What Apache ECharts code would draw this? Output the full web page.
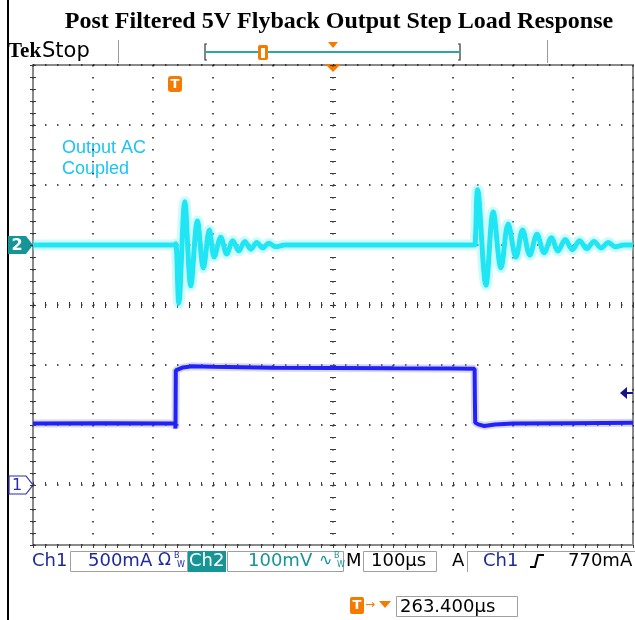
<!DOCTYPE html>
<html lang="en">
<head>
    <meta charset="UTF-8">
    <title>Post Filtered 5V Flyback Output Step Load Response</title>
    <script src="https://cdn.jsdelivr.net/npm/echarts@6/dist/echarts.min.js"></script>
    <style>
        body { margin: 0; background: #fff; }
    </style>
</head>
<body>
    <div id="main" style="width: 635px;height:620px;"></div>
    <script>
// Ch2 (output voltage, AC coupled) - time in us, value in mV
var ch2Time = [0, 236, 238, 243, 253, 263, 274, 284, 294, 302, 313, 323, 333, 343, 353, 363, 373, 383, 393, 405, 420,
    735, 737, 741, 755, 767, 780, 792, 805, 816, 828, 840, 852, 864, 875, 887, 899, 911, 923, 935, 947, 959, 971, 985, 1000];
var ch2mV = [0, 0, 2, -97, 72, -68, 40, -38, 25, -20, 13, -15, 7, -10, 6, -7, 4, -5, 3, -3, 0,
    0, 2, 92, -67, 55, -38, 35, -20, 25, -17, 18, -13, 12, -10, 9, -8, 7, -6, 6, -5, 4, -3, 0, 0];

// Ch1 (load current) - time in us, value in mA
var ch1Time = [0, 120, 237, 237.5, 238, 241, 250, 265, 300, 400, 500, 600, 700, 736, 736.5, 737, 742, 752, 770, 800, 900, 1000];
var ch1mA = [512, 515, 512, 470, 955, 962, 980, 990, 985, 978, 975, 972, 970, 968, 700, 520, 505, 492, 505, 512, 515, 518];

function pairs(xs, ys) {
    var out = [];
    for (var i = 0; i < xs.length; i++) out.push([xs[i], ys[i]]);
    return out;
}

var myChart = echarts.init(document.getElementById('main'));

var gridCol = '#3a3a3a';
var orange = '#f57a00';
var blueTxt = '#1f2a9e';
var teal = '#159595';
var font = 'DejaVu Sans';

// fine graticule ticks, one every 1/5 division
function tickAxis(n, extra) {
    var base = {
        type: 'value', min: 0, max: n, interval: 1,
        axisLine: { show: false },
        axisLabel: { show: false },
        splitLine: { show: false },
        axisTick: { show: true, inside: true, length: 3, lineStyle: { color: gridCol } }
    };
    for (var k in extra) base[k] = extra[k];
    return base;
}
var dotted = { color: '#1a1a1a', width: 1.5, type: [1.5, 10.5] };

var option = {
    animation: false,
    backgroundColor: '#fff',
    title: {
        text: 'Post Filtered 5V Flyback Output Step Load Response',
        left: 334, textAlign: 'center', top: 5,
        textStyle: { fontFamily: 'Liberation Serif', fontWeight: 'bold', fontSize: 24, color: '#000' }
    },
    grid: {
        left: 33, top: 65, width: 600, height: 480,
        show: true, borderColor: '#8a8a8a', borderWidth: 2
    },
    xAxis: [
        {
            type: 'value', min: 0, max: 1000, interval: 100, position: 'bottom',
            axisLine: { show: false }, axisLabel: { show: false }, axisTick: { show: false },
            splitLine: { show: true, lineStyle: dotted }
        },
        tickAxis(50, { position: 'bottom' }),
        tickAxis(50, { position: 'top' }),
        tickAxis(50, { position: 'bottom', offset: -240 }),
        tickAxis(50, { position: 'bottom', offset: -240, axisTick: { show: true, inside: false, length: 3, lineStyle: { color: gridCol } } })
    ],
    yAxis: [
        {
            type: 'value', min: -500, max: 300, interval: 100, position: 'left',
            axisLine: { show: false }, axisLabel: { show: false }, axisTick: { show: false },
            splitLine: { show: true, lineStyle: dotted }
        },
        {
            type: 'value', min: -500, max: 3500, interval: 500, position: 'left',
            axisLine: { show: false }, axisLabel: { show: false }, axisTick: { show: false },
            splitLine: { show: false }
        },
        tickAxis(40, { position: 'left' }),
        tickAxis(40, { position: 'right' }),
        tickAxis(40, { position: 'left', offset: -300 }),
        tickAxis(40, { position: 'left', offset: -300, axisTick: { show: true, inside: false, length: 3, lineStyle: { color: gridCol } } })
    ],
    series: [
        {
            name: 'Ch2 band', type: 'line', xAxisIndex: 0, yAxisIndex: 0, showSymbol: false,
            smooth: 0.35,
            lineStyle: { color: '#6ff3fb', width: 11, opacity: 0.35 },
            data: pairs(ch2Time, ch2mV)
        },
        {
            name: 'Ch2', type: 'line', xAxisIndex: 0, yAxisIndex: 0, showSymbol: false,
            smooth: 0.35,
            lineStyle: { color: '#20e6f4', width: 5 },
            data: pairs(ch2Time, ch2mV)
        },
        {
            name: 'Ch1 band', type: 'line', xAxisIndex: 0, yAxisIndex: 1, showSymbol: false,
            lineStyle: { color: '#7a7aff', width: 8, opacity: 0.3 },
            data: pairs(ch1Time, ch1mA)
        },
        {
            name: 'Ch1', type: 'line', xAxisIndex: 0, yAxisIndex: 1, showSymbol: false,
            lineStyle: { color: '#2222f5', width: 4 },
            data: pairs(ch1Time, ch1mA)
        }
    ],
    graphic: [
        // left frame line
        { type: 'rect', shape: { x: 7, y: 0, width: 2, height: 620 }, style: { fill: '#000' } },
        // header
        { type: 'text', x: 8, y: 52, style: { text: 'Tek', font: 'bold 21px Liberation Serif', fill: '#000', textVerticalAlign: 'middle' } },
        { type: 'text', x: 42, y: 52, style: { text: 'Stop', font: '21px ' + font, fill: '#000', textVerticalAlign: 'middle' } },
        { type: 'line', shape: { x1: 118.5, y1: 40, x2: 118.5, y2: 63 }, style: { stroke: '#9a9a9a', lineWidth: 1 } },
        { type: 'line', shape: { x1: 547.5, y1: 40, x2: 547.5, y2: 63 }, style: { stroke: '#9a9a9a', lineWidth: 1 } },
        { type: 'polyline', shape: { points: [[207, 44], [205, 44], [205, 60], [207, 60]] }, style: { stroke: '#333', lineWidth: 1.2, fill: null } },
        { type: 'polyline', shape: { points: [[458, 44], [460, 44], [460, 60], [458, 60]] }, style: { stroke: '#333', lineWidth: 1.2, fill: null } },
        { type: 'line', shape: { x1: 205, y1: 52, x2: 460, y2: 52 }, style: { stroke: '#2aa8a8', lineWidth: 2 } },
        { type: 'rect', shape: { x: 258, y: 45, width: 10, height: 15, r: 2 }, style: { fill: orange } },
        { type: 'rect', shape: { x: 261, y: 48, width: 4, height: 10 }, style: { fill: '#fff' } },
        { type: 'polygon', shape: { points: [[328, 42], [338, 42], [333, 48]] }, style: { fill: orange } },
        // trigger position marker on graticule top
        { type: 'polygon', shape: { points: [[325, 64], [341, 64], [333, 72]] }, style: { fill: orange } },
        { type: 'rect', shape: { x: 168, y: 76, width: 14, height: 16, r: 3 }, style: { fill: orange } },
        { type: 'text', x: 175, y: 84.5, style: { text: 'T', font: 'bold 13px ' + font, fill: '#fff', textAlign: 'center', textVerticalAlign: 'middle' } },
        // annotation
        { type: 'text', x: 62, y: 148, style: { text: 'Output AC', font: '18px Liberation Sans', fill: '#1cc4f4', textVerticalAlign: 'middle' } },
        { type: 'text', x: 62, y: 169, style: { text: 'Coupled', font: '18px Liberation Sans', fill: '#1cc4f4', textVerticalAlign: 'middle' } },
        // channel ground markers
        { type: 'polygon', shape: { points: [[8, 236], [26, 236], [33, 245], [26, 254], [8, 254]] }, style: { fill: teal } },
        { type: 'text', x: 17, y: 246, style: { text: '2', font: 'bold 16px ' + font, fill: '#fff', textAlign: 'center', textVerticalAlign: 'middle' } },
        { type: 'polygon', shape: { points: [[9, 476], [26, 476], [33, 485], [26, 494], [9, 494]] }, style: { fill: '#fff', stroke: '#2b2bb5', lineWidth: 1.2 } },
        { type: 'text', x: 17, y: 486, style: { text: '1', font: '16px ' + font, fill: '#2b2bb5', textAlign: 'center', textVerticalAlign: 'middle' } },
        // trigger level arrow
        { type: 'polygon', shape: { points: [[620, 393], [627, 387], [627, 399]] }, style: { fill: '#15158a' } },
        { type: 'line', shape: { x1: 626, y1: 393, x2: 633, y2: 393 }, style: { stroke: '#15158a', lineWidth: 2 } },
        // status bar
        { type: 'text', x: 32, y: 561, style: { text: 'Ch1', font: '18px ' + font, fill: blueTxt, textVerticalAlign: 'middle' } },
        { type: 'rect', shape: { x: 70.5, y: 551.5, width: 117, height: 20 }, style: { fill: '#fff', stroke: '#a0a0a0', lineWidth: 1 } },
        { type: 'text', x: 88, y: 561, style: { text: '500mA', font: '18px ' + font, fill: blueTxt, textVerticalAlign: 'middle' } },
        { type: 'text', x: 158, y: 561, style: { text: '\u03A9', font: '17px ' + font, fill: blueTxt, textVerticalAlign: 'middle' } },
        { type: 'text', x: 174, y: 556, style: { text: 'B', font: '8px ' + font, fill: blueTxt, textVerticalAlign: 'middle' } },
        { type: 'text', x: 177, y: 565, style: { text: 'W', font: '8px ' + font, fill: blueTxt, textVerticalAlign: 'middle' } },
        { type: 'rect', shape: { x: 188, y: 551, width: 38, height: 21 }, style: { fill: teal } },
        { type: 'text', x: 189, y: 561, style: { text: 'Ch2', font: '18px ' + font, fill: '#fff', textVerticalAlign: 'middle' } },
        { type: 'rect', shape: { x: 227.5, y: 551.5, width: 116, height: 20 }, style: { fill: '#fff', stroke: '#a0a0a0', lineWidth: 1 } },
        { type: 'text', x: 248, y: 561, style: { text: '100mV', font: '18px ' + font, fill: teal, textVerticalAlign: 'middle' } },
        { type: 'text', x: 319, y: 561, style: { text: '\u223F', font: '16px ' + font, fill: teal, textVerticalAlign: 'middle' } },
        { type: 'text', x: 334, y: 556, style: { text: 'B', font: '8px ' + font, fill: teal, textVerticalAlign: 'middle' } },
        { type: 'text', x: 337, y: 565, style: { text: 'W', font: '8px ' + font, fill: teal, textVerticalAlign: 'middle' } },
        { type: 'text', x: 346, y: 561, style: { text: 'M', font: '18px ' + font, fill: '#000', textVerticalAlign: 'middle' } },
        { type: 'rect', shape: { x: 363.5, y: 551.5, width: 73, height: 20 }, style: { fill: '#fff', stroke: '#a0a0a0', lineWidth: 1 } },
        { type: 'text', x: 371, y: 561, style: { text: '100\u00B5s', font: '18px ' + font, fill: '#000', textVerticalAlign: 'middle' } },
        { type: 'text', x: 452, y: 561, style: { text: 'A', font: '18px ' + font, fill: '#000', textVerticalAlign: 'middle' } },
        { type: 'polyline', shape: { points: [[467.5, 572], [467.5, 551.5], [636, 551.5]] }, style: { stroke: '#a0a0a0', lineWidth: 1, fill: null } },
        { type: 'text', x: 483, y: 561, style: { text: 'Ch1', font: '18px ' + font, fill: blueTxt, textVerticalAlign: 'middle' } },
        { type: 'polyline', shape: { points: [[530, 567], [535, 567], [538, 555], [544, 555]] }, style: { stroke: '#000', lineWidth: 2, fill: null } },
        { type: 'text', x: 568, y: 561, style: { text: '770mA', font: '18px ' + font, fill: '#000', textVerticalAlign: 'middle' } },
        // trigger position readout
        { type: 'rect', shape: { x: 350, y: 597, width: 14, height: 17, r: 2 }, style: { fill: orange } },
        { type: 'text', x: 357, y: 606, style: { text: 'T', font: 'bold 13px ' + font, fill: '#fff', textAlign: 'center', textVerticalAlign: 'middle' } },
        { type: 'text', x: 365, y: 605, style: { text: '\u2192', font: '12px ' + font, fill: orange, textVerticalAlign: 'middle' } },
        { type: 'polygon', shape: { points: [[379, 601], [391, 601], [385, 608]] }, style: { fill: orange } },
        { type: 'rect', shape: { x: 396.5, y: 596.5, width: 121, height: 20 }, style: { fill: '#fff', stroke: '#a0a0a0', lineWidth: 1 } },
        { type: 'text', x: 400, y: 607, style: { text: '263.400\u00B5s', font: '18px ' + font, fill: '#000', textVerticalAlign: 'middle' } }
    ]
};

myChart.setOption(option);
    </script>
</body>
</html>
